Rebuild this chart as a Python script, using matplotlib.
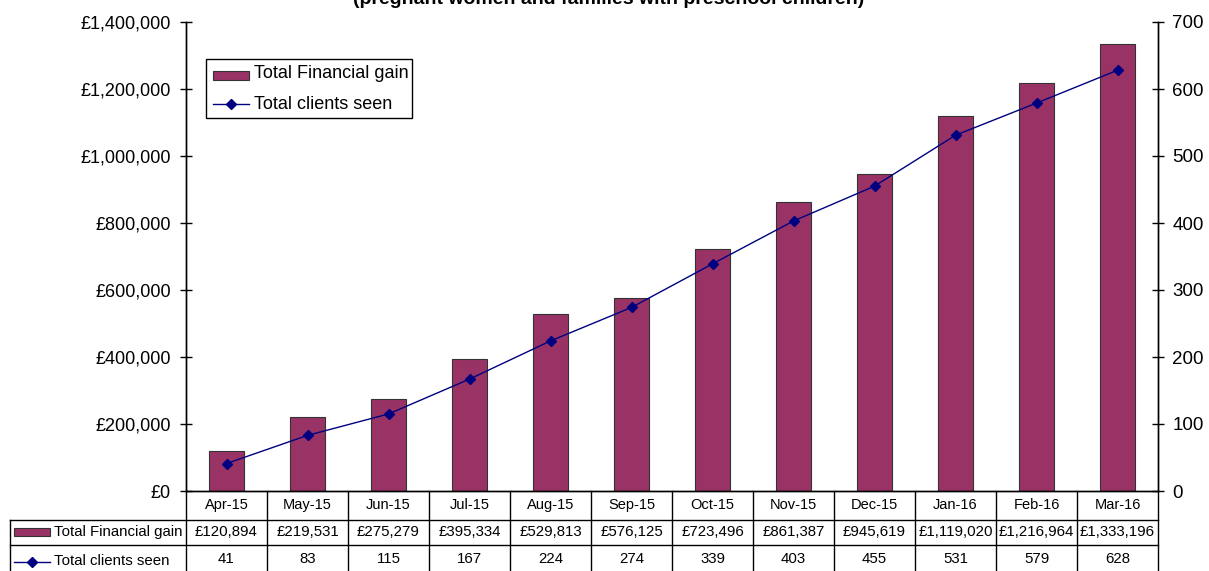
import matplotlib
matplotlib.use("Agg")
import matplotlib.pyplot as plt
from matplotlib.patches import Rectangle
from matplotlib.lines import Line2D
from matplotlib.ticker import FuncFormatter, MultipleLocator

months = ["Apr-15", "May-15", "Jun-15", "Jul-15", "Aug-15", "Sep-15",
          "Oct-15", "Nov-15", "Dec-15", "Jan-16", "Feb-16", "Mar-16"]
financial_gain = [120894, 219531, 275279, 395334, 529813, 576125,
                  723496, 861387, 945619, 1119020, 1216964, 1333196]
clients_seen = [41, 83, 115, 167, 224, 274, 339, 403, 455, 531, 579, 628]
title_text = "(pregnant women and families with preschool children)"

plt.rcParams['font.family'] = ['Liberation Sans', 'DejaVu Sans']

W, H = 1209, 571
fig = plt.figure(figsize=(W / 100, H / 100), dpi=100)

def fx(x):
    return x / W

def fy(y):
    return 1 - y / H

ax_l, ax_r, ax_t, ax_b = 186, 1158, 22, 491
ax = fig.add_axes([fx(ax_l), fy(ax_b), (ax_r - ax_l) / W, (ax_b - ax_t) / H])
ax2 = ax.twinx()

BAR = '#993366'
LINE = '#000080'
x = list(range(len(months)))
ax.bar(x, financial_gain, width=0.42, color=BAR, edgecolor='#333333', linewidth=0.8, zorder=2)
ax2.plot(x, clients_seen, color=LINE, linewidth=1.0, marker='D', markersize=5, zorder=3)

ax.set_xlim(-0.5, len(months) - 0.5)
ax.set_ylim(0, 1400000)
ax2.set_ylim(0, 700)
ax.yaxis.set_major_locator(MultipleLocator(200000))
ax2.yaxis.set_major_locator(MultipleLocator(100))
ax.yaxis.set_major_formatter(FuncFormatter(lambda v, p: "£{:,.0f}".format(v)))
ax.set_xticks([])
for a in (ax, ax2):
    a.spines['top'].set_visible(False)
    for s in a.spines.values():
        s.set_linewidth(1.0)
        s.set_color('black')
ax.tick_params(axis='y', direction='inout', length=8.5, width=1, labelsize=13, pad=6.5)
ax2.tick_params(axis='y', direction='inout', length=8.5, width=1, labelsize=13.5, pad=6)

# title (partially cut at top, as in the reference)
fig.text(0.503, fy(4), title_text, ha='center', va='baseline', fontsize=14, fontweight='bold')

# legend box
lg_l, lg_t, lg_r, lg_b = 206, 59, 412, 118
fig.patches.append(Rectangle((fx(lg_l), fy(lg_b)), fx(lg_r - lg_l), (lg_b - lg_t) / H,
                             transform=fig.transFigure, facecolor='white', edgecolor='black',
                             linewidth=1.0, zorder=5))
fig.patches.append(Rectangle((fx(213), fy(80)), fx(36), 9 / H, transform=fig.transFigure,
                             facecolor=BAR, edgecolor='#333333', linewidth=0.8, zorder=6))
fig.text(fx(254), fy(74), "Total Financial gain", fontsize=13, va='center', ha='left', zorder=6)
fig.lines.append(Line2D([fx(213), fx(249)], [fy(104), fy(104)], transform=fig.transFigure,
                        color=LINE, linewidth=1.0, marker=None, zorder=6))
fig.lines.append(Line2D([fx(231)], [fy(104)], transform=fig.transFigure, color=LINE,
                        marker='D', markersize=5, zorder=6))
fig.text(fx(254), fy(104), "Total clients seen", fontsize=13, va='center', ha='left', zorder=6)

# data table
col_w = (ax_r - ax_l) / len(months)
row1_top, row2_top, row3_top, tbl_bot = 491, 520, 545, 575
tbl_left = 10

def hline(x0, x1, y):
    fig.lines.append(Line2D([fx(x0), fx(x1)], [fy(y), fy(y)], transform=fig.transFigure,
                            color='black', linewidth=1.0))

def vline(xp, y0, y1):
    fig.lines.append(Line2D([fx(xp), fx(xp)], [fy(y0), fy(y1)], transform=fig.transFigure,
                            color='black', linewidth=1.0))

hline(tbl_left, ax_r, row2_top)
hline(tbl_left, ax_r, row3_top)
vline(tbl_left, row2_top, tbl_bot)
for i in range(len(months) + 1):
    vline(ax_l + i * col_w, row1_top, tbl_bot)

for i, m in enumerate(months):
    cx = ax_l + (i + 0.5) * col_w
    fig.text(fx(cx), fy(505), m, ha='center', va='center', fontsize=10.5)
    fig.text(fx(cx), fy(532), "£{:,}".format(financial_gain[i]), ha='center', va='center', fontsize=10.8)
    fig.text(fx(cx), fy(559), str(clients_seen[i]), ha='center', va='center', fontsize=10.8)

fig.patches.append(Rectangle((fx(14), fy(536)), fx(36), 8 / H, transform=fig.transFigure,
                             facecolor=BAR, edgecolor='#333333', linewidth=0.8))
fig.text(fx(54), fy(532), "Total Financial gain", fontsize=10.8, va='center', ha='left')
fig.lines.append(Line2D([fx(14), fx(50)], [fy(562), fy(562)], transform=fig.transFigure,
                        color=LINE, linewidth=1.0))
fig.lines.append(Line2D([fx(32)], [fy(562)], transform=fig.transFigure, color=LINE,
                        marker='D', markersize=5))
fig.text(fx(54), fy(561), "Total clients seen", fontsize=10.8, va='center', ha='left')

fig.savefig("out.png", dpi=100)
